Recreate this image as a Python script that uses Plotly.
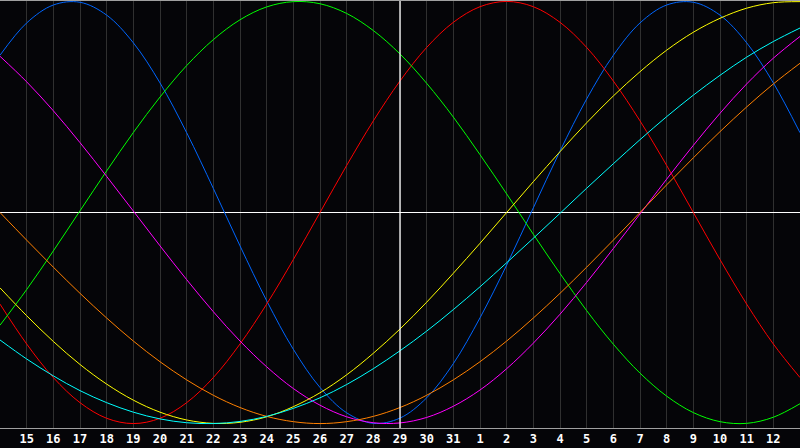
import plotly.graph_objects as go

# Day labels (index 0 = 14th of first month, index 30 = 13th of next month)
day_labels = ["14", "15", "16", "17", "18", "19", "20", "21", "22", "23", "24",
              "25", "26", "27", "28", "29", "30", "31", "1", "2", "3", "4", "5",
              "6", "7", "8", "9", "10", "11", "12", "13"]
today_label = "29"

# Cycle values (percent), read per day from the chart
physical = [74.5, 89.8, 98.3, 99.6, 93.5, 80.4, 61.4, 37.8, 11.4, -15.8, -41.8, -64.8,
            -82.9, -94.9, -99.9, -97.4, -87.8, -71.6, -49.9, -24.9, 2.2, 29.1, 53.8,
            74.5, 89.8, 98.3, 99.6, 93.5, 80.4, 61.4, 37.8]
emotional = [-43.4, -62.3, -78.2, -90.1, -97.5, -100, -97.5, -90.1, -78.2, -62.3, -43.4,
             -22.3, 0, 22.3, 43.4, 62.3, 78.2, 90.1, 97.5, 100, 97.5, 90.1, 78.2, 62.3,
             43.4, 22.3, 0, -22.3, -43.4, -62.3, -78.2]
intellectual = [-53.4, -36.5, -18.2, 0.8, 19.7, 37.9, 54.7, 69.6, 81.9, 91.3, 97.4, 99.9,
                98.9, 94.3, 86.2, 75.1, 61.2, 45.2, 27.4, 8.8, -10.3, -28.9, -46.5, -62.4,
                -76.1, -87.0, -94.8, -99.1, -99.9, -97.0, -90.6]
intuitive = [74.0, 61.9, 48.2, 33.1, 17.1, 0.7, -15.8, -31.8, -47.0, -60.9, -73.1, -83.4,
             -91.3, -96.8, -99.6, -99.7, -97.1, -91.8, -84.1, -74.0, -61.9, -48.2, -33.1,
             -17.1, -0.7, 15.8, 31.8, 47.0, 60.9, 73.1, 83.4]
aesthetic = [-35.7, -48.9, -61.1, -72.0, -81.3, -88.9, -94.6, -98.3, -99.9, -99.4, -96.8,
             -92.0, -85.4, -76.9, -66.7, -55.2, -42.5, -28.8, -14.6, 0, 14.6, 28.8, 42.5,
             55.2, 66.7, 76.9, 85.4, 92.0, 96.8, 99.4, 99.9]
awareness = [0, -13.1, -25.9, -38.3, -50, -60.9, -70.7, -79.3, -86.6, -92.4, -96.6, -99.1,
             -100, -99.1, -96.6, -92.4, -86.6, -79.3, -70.7, -60.9, -50, -38.3, -25.9,
             -13.1, 0, 13.1, 25.9, 38.3, 50, 60.9, 70.7]
spiritual = [-60.4, -69.4, -77.4, -84.4, -90.1, -94.6, -97.8, -99.6, -100.0, -99.0, -96.6,
             -92.8, -87.8, -81.5, -74.0, -65.5, -56.2, -46.0, -35.2, -23.8, -12.2, -0.4,
             11.5, 23.1, 34.5, 45.4, 55.6, 65.0, 73.6, 81.0, 87.4]

series = [
    ("Physical", physical, "#0066ff"),
    ("Emotional", emotional, "#ff0000"),
    ("Intellectual", intellectual, "#00ff00"),
    ("Intuitive", intuitive, "#ff00ff"),
    ("Aesthetic", aesthetic, "#ffff00"),
    ("Awareness", awareness, "#ff8000"),
    ("Spiritual", spiritual, "#00ffff"),
]

x_idx = list(range(len(day_labels)))
tick_idx = x_idx[1:-1]
tick_txt = day_labels[1:-1]
today_idx = day_labels.index(today_label)

fig = go.Figure()
for name, vals, color in series:
    fig.add_trace(go.Scatter(
        x=x_idx, y=vals, mode="lines", name=name,
        line=dict(color=color, width=1, shape="spline"),
        hoverinfo="skip",
    ))

fig.add_shape(type="line", xref="x", yref="paper", x0=today_idx, x1=today_idx,
              y0=0, y1=1, line=dict(color="#ffffff", width=1.3), layer="above")

fig.update_layout(
    width=800, height=448,
    margin=dict(l=0, r=0, t=1, b=20),
    paper_bgcolor="#050508",
    plot_bgcolor="#050508",
    showlegend=False,
    xaxis=dict(
        range=[0, 30],
        tickmode="array", tickvals=tick_idx, ticktext=tick_txt,
        showgrid=True, gridcolor="#303030", gridwidth=1,
        showline=True, linecolor="#a0a0a0", linewidth=1, mirror=True,
        zeroline=False, ticks="",
        tickfont=dict(family="DejaVu Sans Mono", size=12, color="#ffffff", weight="bold"),
        fixedrange=True,
    ),
    yaxis=dict(
        range=[-102.1, 100.2],
        showgrid=False, showticklabels=False, ticks="",
        zeroline=True, zerolinecolor="#ffffff", zerolinewidth=1.3,
        showline=True, linecolor="#a0a0a0", linewidth=1,
        fixedrange=True,
    ),
)

fig.write_html(
    "out.html",
    config={"displayModeBar": False},
    post_script="document.body.style.margin='0';document.body.style.background='#050508';",
)
